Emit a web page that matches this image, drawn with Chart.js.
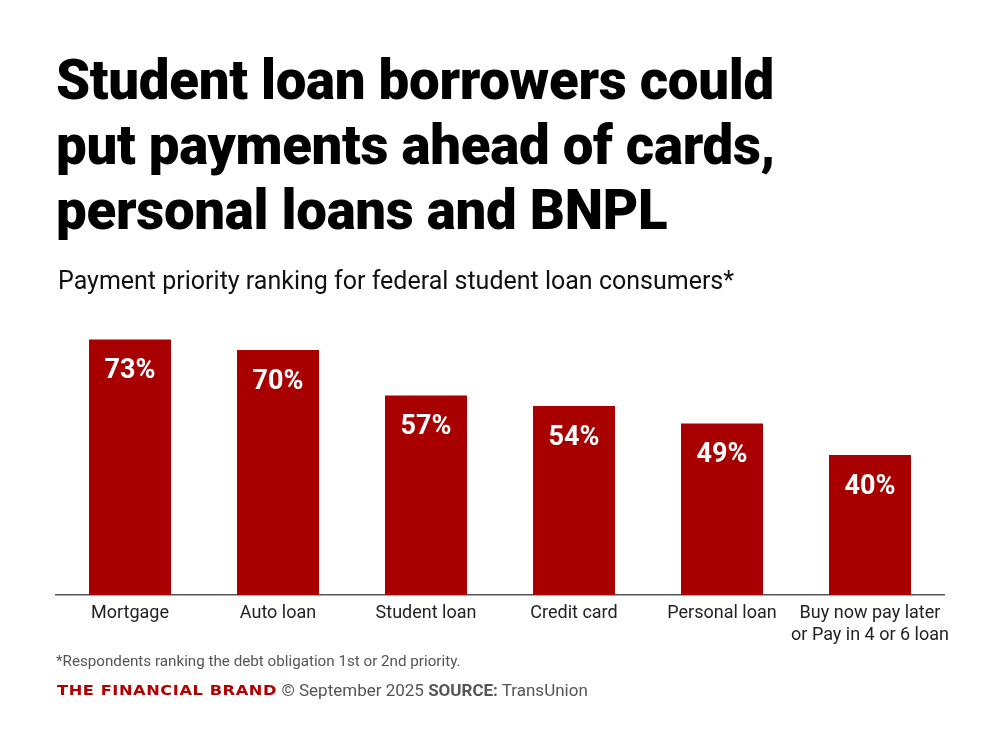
<!DOCTYPE html>
<html><head><meta charset="utf-8">
<script src="https://cdn.jsdelivr.net/npm/chart.js@4"></script>
<style>
html,body{margin:0;padding:0;background:#fff;width:1000px;height:740px;overflow:hidden;font-family:Roboto,"Noto Sans",sans-serif;}
#title{position:absolute;left:56px;top:48px;font-size:54.6px;font-weight:900;line-height:65px;color:#000;letter-spacing:-0.3px;}
#sub{position:absolute;left:58px;top:266px;font-size:25px;color:#111;}
#wrap{position:absolute;left:0;top:0;width:1000px;height:740px;}
#note{position:absolute;left:56px;top:652px;font-size:15.2px;color:#555;}
#foot{position:absolute;left:57px;top:680px;font-size:17px;color:#555;white-space:nowrap;}
#brand{color:#b00000;font-weight:700;font-size:14.5px;letter-spacing:0.5px;display:inline-block;transform:scaleX(1.12);transform-origin:left center;margin-right:28px;font-family:"DejaVu Sans",sans-serif;vertical-align:1px;}
</style></head><body>
<div id="wrap"><canvas id="c" width="1000" height="740"></canvas></div>
<div id="title">Student loan borrowers could<br>put payments ahead of cards,<br>personal loans and BNPL</div>
<div id="sub">Payment priority ranking for federal student loan consumers*</div>
<div id="note">*Respondents ranking the debt obligation 1st or 2nd priority.</div>
<div id="foot"><span id="brand">THE FINANCIAL BRAND</span>© September 2025 <b>SOURCE:</b> TransUnion</div>
<script>
const categories = ["Mortgage", "Auto loan", "Student loan", "Credit card", "Personal loan", ["Buy now pay later", "or Pay in 4 or 6 loan"]];
const values = [73, 70, 57, 54, 49, 40];
const valueLabels = ["73%", "70%", "57%", "54%", "49%", "40%"];

const labelPlugin = {
  id: 'valLabels',
  afterDatasetsDraw(chart) {
    const ctx = chart.ctx;
    const meta = chart.getDatasetMeta(0);
    ctx.save();
    ctx.fillStyle = '#fff';
    ctx.font = 'bold 27px Roboto';
    ctx.textAlign = 'center';
    ctx.textBaseline = 'middle';
    meta.data.forEach((bar, i) => {
      ctx.fillText(valueLabels[i], bar.x, bar.y + 32);
    });
    ctx.restore();
  }
};

new Chart(document.getElementById('c'), {
  type: 'bar',
  data: { labels: categories, datasets: [{ data: values, backgroundColor: '#a80000', barPercentage: 0.554, categoryPercentage: 1 }] },
  options: {
    responsive: false, animation: false,
    layout: { padding: { left: 56, right: 56, top: 315, bottom: 75 } },
    plugins: { legend: { display: false }, tooltip: { enabled: false } },
    scales: {
      y: { display: false, min: 0, max: 80 },
      x: {
        grid: { display: false, drawTicks: false },
        border: { display: true, color: '#555', width: 1.5 },
        ticks: { color: '#222', font: { family: 'Roboto', size: 18, lineHeight: 1.22 }, padding: 8, maxRotation: 0, autoSkip: false },
        afterFit: (s) => { s.height = 70; }
      }
    }
  },
  plugins: [labelPlugin]
});
</script>
</body></html>
